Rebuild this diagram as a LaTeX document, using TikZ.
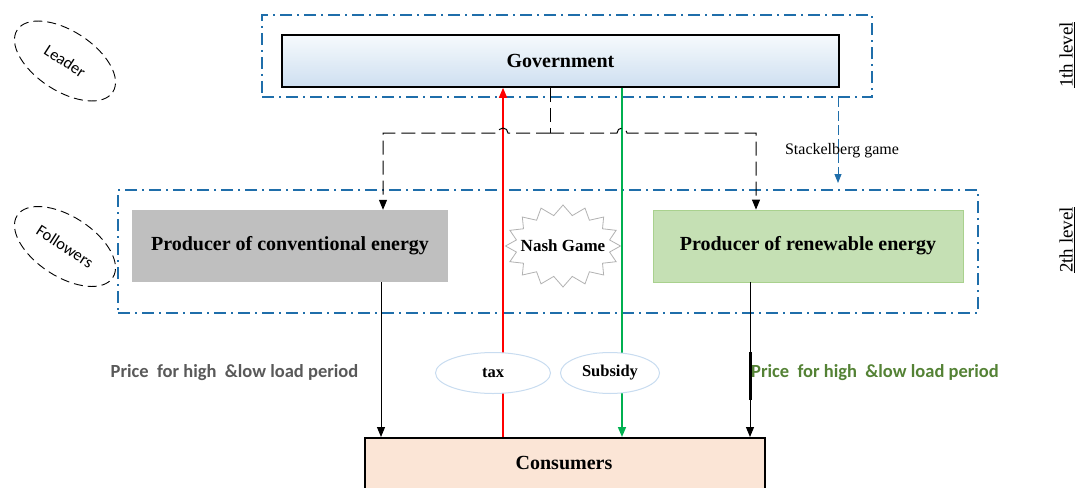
\documentclass[tikz,border=0pt]{standalone}
\usepackage{fontspec}
\setmainfont{Liberation Serif}
\newfontfamily\calfont{Carlito}
\usetikzlibrary{shapes.geometric,shapes.symbols,arrows.meta,calc}
\definecolor{dashblue}{RGB}{31,110,170}
\definecolor{govtop}{RGB}{246,250,253}
\definecolor{govbot}{RGB}{206,223,240}
\definecolor{convgray}{RGB}{191,191,191}
\definecolor{rengreen}{RGB}{197,224,180}
\definecolor{renedge}{RGB}{169,209,142}
\definecolor{consfill}{RGB}{251,229,214}
\definecolor{subgreen}{RGB}{0,176,80}
\definecolor{pricegray}{RGB}{89,89,89}
\definecolor{pricegreen}{RGB}{84,130,53}
\definecolor{ellblue}{RGB}{200,220,240}
\begin{document}
\begin{tikzpicture}[x=1pt,y=-1pt,
  >={Triangle[length=10pt,width=8pt]},
  levelbox/.style={draw=dashblue, line width=1.6pt, dash pattern=on 12pt off 5pt on 2pt off 5pt, inner sep=0pt, outer sep=0pt},
  bigtext/.style={font=\bfseries\fontsize{20}{24}\selectfont},
  rolebox/.style={ellipse, draw=black, line width=0.9pt, dash pattern=on 9pt off 5pt, rotate=-33, minimum width=114pt, minimum height=60pt, inner sep=0pt, font=\calfont\fontsize{16.5}{19}\selectfont},
  flowline/.style={draw=black, line width=1pt},
  govdash/.style={draw=black, line width=1pt, dash pattern=on 14pt off 6pt},
  stackdash/.style={draw=dashblue, line width=1pt, dash pattern=on 10pt off 4pt},
  payell/.style={ellipse, draw=ellblue, line width=1pt, fill=white, inner sep=0pt, font=\bfseries\fontsize{16.5}{19}\selectfont},
  pricelabel/.style={font=\calfont\bfseries\fontsize{18.5}{22}\selectfont},
  levellabel/.style={rotate=90, font=\fontsize{19}{22}\selectfont, inner sep=0pt}]
\useasboundingbox (0,0) rectangle (1078,487);
\clip (0,0) rectangle (1078,487);

% level boxes
\node[levelbox, minimum width=610pt, minimum height=82pt, anchor=north west] (lvl1) at (262,15) {};
\node[levelbox, minimum width=860pt, minimum height=123pt, anchor=north west] (lvl2) at (118,190) {};

% role ellipses
\node[rolebox] (leader) at (65,61) {Leader};
\node[rolebox] (followers) at (65,246.5) {Followers};

% main boxes
\node[bigtext, draw=black, line width=1.6pt, top color=govtop, bottom color=govbot, minimum width=557pt, minimum height=52pt] (gov) at (560.5,61) {Government};
\node[bigtext, fill=convgray, minimum width=316pt, minimum height=72pt] (conv) at (290,246) {Producer of conventional energy};
\node[bigtext, fill=rengreen, draw=renedge, line width=0.8pt, minimum width=310pt, minimum height=72pt] (ren) at (808,246) {Producer of renewable energy};
\node[bigtext, draw=black, line width=1.6pt, fill=consfill, minimum width=400pt, minimum height=54pt, anchor=north west] (cons) at (364,437) {};
\node[bigtext] (constext) at (564,463) {Consumers};

% Nash game
\node[starburst, starburst points=16, starburst point height=10pt, random starburst=0, draw=gray!60, line width=0.8pt, fill=white, minimum width=115pt, minimum height=82pt, inner sep=0pt,
  label={[font=\bfseries\fontsize{17}{20}\selectfont]center:Nash Game}] (nash) at (563,246) {};

% helper coordinates
\coordinate (rx) at (503,0);
\coordinate (gx) at (622,0);
\coordinate (dx) at (550,133);
\coordinate (lx) at (383,133);
\coordinate (rgt) at (756,133);
\coordinate (cb) at (381,0);
\coordinate (rb) at (750,0);
\coordinate (sx) at (838,0);

% tax / subsidy lines
\draw[red, line width=1.6pt, ->] (cons.north -| rx) -- (gov.south -| rx);
\draw[subgreen, line width=1.6pt, ->] (gov.south -| gx) -- (cons.north -| gx);

% government to producers (dashed with hops)
\draw[govdash] (gov.south -| dx) -- (dx);
\draw[govdash, ->] (dx) -- (508,133) arc[start angle=0, end angle=180, radius=5pt] -- (lx) -- (conv.north -| lx);
\draw[govdash, ->] (dx) -- (617,133) arc[start angle=180, end angle=0, radius=5pt] -- (rgt) -- (ren.north -| rgt);

% Stackelberg
\draw[stackdash, -{Triangle[length=9pt,width=7pt]}, shorten >=7pt] (lvl1.south -| sx) -- (lvl2.north -| sx);
\node[font=\fontsize{16}{19}\selectfont] (stack) at (842,151) {Stackelberg game};

% price flows
\draw[flowline, ->] (conv.south -| cb) -- (cons.north -| cb);
\draw[flowline, ->] (ren.south -| rb) -- (cons.north -| rb);
\draw[line width=3pt] ($(ren.south -| rb)+(0,70)$) -- ++(0,48);

\node[pricelabel, text=pricegray] (p1) at (234.5,373) {Price\ \ for high\ \ \&low load period};
\node[pricelabel, text=pricegreen] (p2) at (875,373) {Price\ \ for high\ \ \&low load period};

% tax / subsidy ellipses
\node[payell, minimum width=115pt, minimum height=41pt] (tax) at (493,373) {tax};
\node[payell, minimum width=99pt, minimum height=41pt] (sub) at (610,373) {Subsidy};

% level labels
\node[levellabel] (l1) at (1067,55) {\underline{1th level}};
\node[levellabel] (l2) at (1067,240) {\underline{2th level}};
\end{tikzpicture}
\end{document}
